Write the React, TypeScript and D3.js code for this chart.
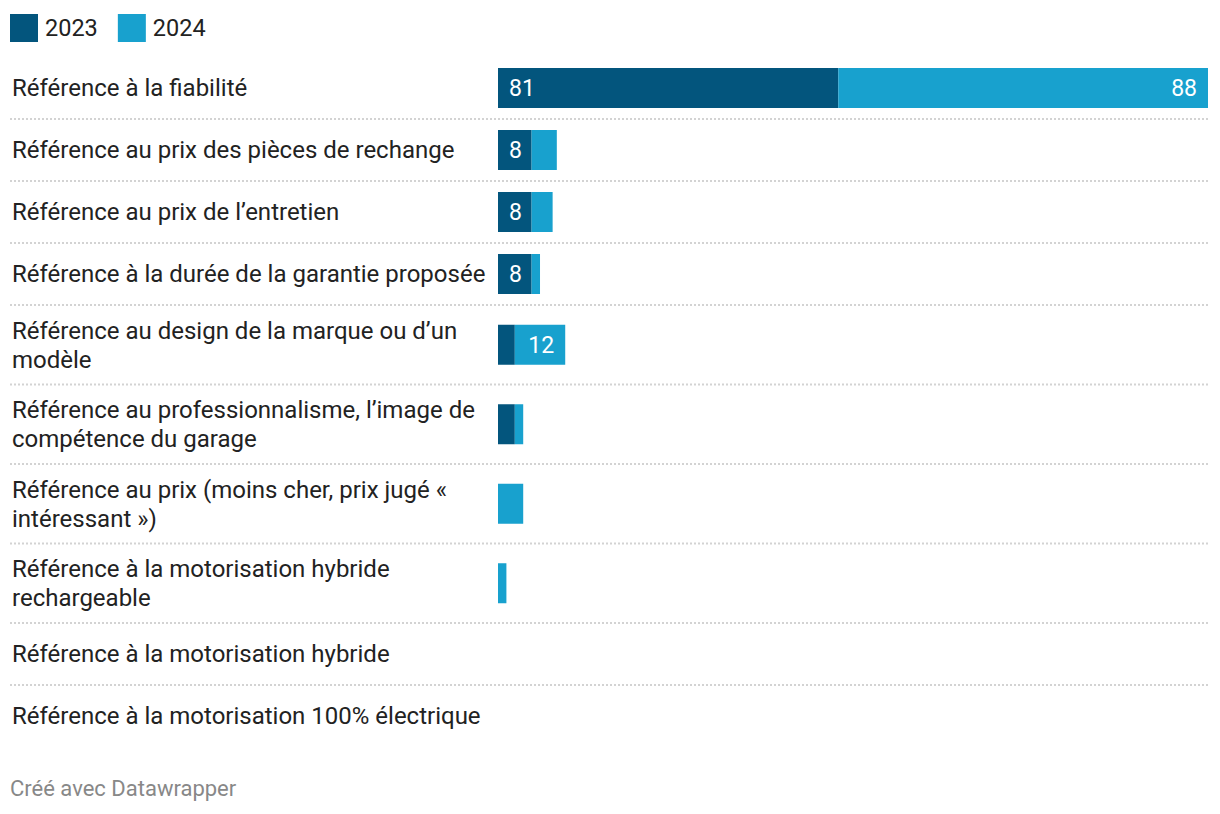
import { useEffect, useRef } from "react";
import * as d3 from "d3";

const categories = [
  "Référence à la fiabilité",
  "Référence au prix des pièces de rechange",
  "Référence au prix de l’entretien",
  "Référence à la durée de la garantie proposée",
  "Référence au design de la marque ou d’un modèle",
  "Référence au professionnalisme, l’image de compétence du garage",
  "Référence au prix (moins cher, prix jugé « intéressant »)",
  "Référence à la motorisation hybride rechargeable",
  "Référence à la motorisation hybride",
  "Référence à la motorisation 100% électrique",
];
const years = ["2023", "2024"];
const values2023 = [81, 8, 8, 8, 4, 4, 0, 0, 0, 0];
const values2024 = [88, 6, 5, 2, 12, 2, 6, 2, 0, 0];
const colors = ["#03557d", "#18a1ce"];

export default function App() {
  const ref = useRef<SVGSVGElement>(null);

  useEffect(() => {
    const svg = d3.select(ref.current);
    svg.selectAll("*").remove();

    const width = 1220;
    const height = 814;
    const font = "Roboto, sans-serif";
    const labelX = 12;
    const labelMax = 490;
    const barX0 = 498;
    const barX1 = 1208;
    const barH = 40;
    const lineH = 28.75;
    const pad = 11;

    svg.attr("width", width).attr("height", height).style("font-family", font);

    // legend
    const legend = svg.append("g");
    let lx = 10;
    years.forEach((y, i) => {
      legend.append("rect").attr("x", lx).attr("y", 14).attr("width", 28).attr("height", 28).attr("fill", colors[i]);
      const t = legend.append("text").attr("x", lx + 35).attr("y", 35.5).attr("font-size", 23.5).attr("fill", "#222").text(y);
      lx += 35 + (t.node() as SVGTextElement).getComputedTextLength() + 20;
    });

    const data = categories.map((c, i) => ({ cat: c, a: values2023[i], b: values2024[i] }));
    const x = d3.scaleLinear()
      .domain([0, d3.max(data, (d) => d.a + d.b) as number])
      .range([barX0, barX1]);

    let top = 57;
    data.forEach((d, i) => {
      const g = svg.append("g");

      // wrap label text
      const txt = g.append("text").attr("font-size", 24).attr("fill", "#222");
      const words = d.cat.split(" ");
      const lines: string[] = [];
      let cur = "";
      const probe = txt.append("tspan");
      words.forEach((w) => {
        const test = cur ? cur + " " + w : w;
        probe.text(test);
        if ((probe.node() as SVGTSpanElement).getComputedTextLength() > labelMax - labelX && cur) {
          lines.push(cur);
          cur = w;
        } else {
          cur = test;
        }
      });
      lines.push(cur);
      probe.remove();

      const rowH = Math.max(barH + 2 * pad, lines.length * lineH + 2 * pad);
      const cy = top + rowH / 2;
      lines.forEach((l, j) => {
        txt.append("tspan")
          .attr("x", labelX)
          .attr("y", cy + (j - (lines.length - 1) / 2) * lineH)
          .attr("dy", "0.35em")
          .text(l);
      });

      // stacked bars
      const segs = [
        { v: d.a, x0: x(0), x1: x(d.a), c: colors[0] },
        { v: d.b, x0: x(d.a), x1: x(d.a + d.b), c: colors[1] },
      ];
      segs.forEach((s, k) => {
        if (s.v <= 0) return;
        g.append("rect")
          .attr("x", s.x0)
          .attr("y", cy - barH / 2)
          .attr("width", s.x1 - s.x0)
          .attr("height", barH)
          .attr("fill", s.c);
        if (s.v >= 8) {
          g.append("text")
            .attr("x", k === 0 ? s.x0 + pad : s.x1 - pad)
            .attr("y", cy)
            .attr("dy", "0.35em")
            .attr("text-anchor", k === 0 ? "start" : "end")
            .attr("font-size", 23)
            .attr("fill", "#fff")
            .text(s.v);
        }
      });

      top += rowH;
      if (i < data.length - 1) {
        svg.append("line")
          .attr("x1", 10)
          .attr("x2", barX1)
          .attr("y1", top)
          .attr("y2", top)
          .attr("stroke", "#d3d3d3")
          .attr("stroke-width", 2)
          .attr("stroke-dasharray", "2,2");
      }
    });

    svg.append("text")
      .attr("x", 10)
      .attr("y", 796)
      .attr("font-size", 22)
      .attr("fill", "#888")
      .text("Créé avec Datawrapper");
  }, []);

  return (
    <div style={{ position: "absolute", left: 0, top: 0 }}>
      <svg ref={ref}></svg>
    </div>
  );
}
